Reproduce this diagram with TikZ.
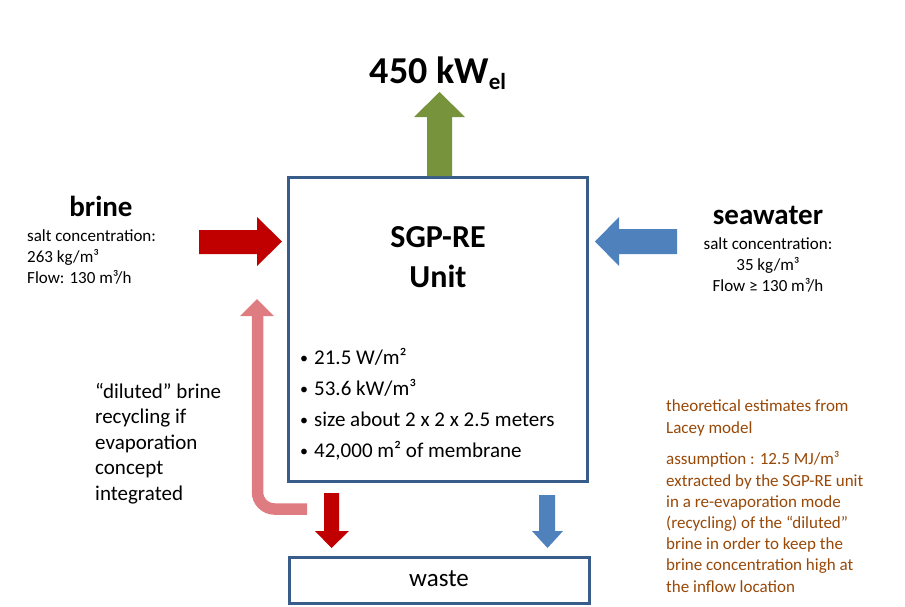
\documentclass[tikz,border=0pt]{standalone}
\usepackage{fontspec}
\setmainfont{Carlito}
\usetikzlibrary{positioning}

\definecolor{boxblue}{HTML}{385D8A}
\definecolor{brinered}{HTML}{C00000}
\definecolor{seablue}{HTML}{4F81BD}
\definecolor{powergreen}{HTML}{77933C}
\definecolor{recyclepink}{HTML}{DF7C81}
\definecolor{notebrown}{HTML}{984807}

\begin{document}
\begin{tikzpicture}[x=1pt,y=-1pt,
    unit box/.style={draw=boxblue,line width=3pt,inner sep=0pt},
    big label/.style={font=\fontsize{29}{35}\selectfont\bfseries,anchor=base},
    small label/.style={font=\fontsize{17}{20.6}\selectfont,anchor=base,align=center},
    bullet/.style={font=\fontsize{21}{25}\selectfont,anchor=base west,inner sep=0pt},
    note/.style={font=\fontsize{17}{21.2}\selectfont,text=notebrown,anchor=base west,align=left,inner sep=0pt}]

\useasboundingbox (0,0) rectangle (905,606);

% boxes
\node[unit box,minimum width=299pt,minimum height=304pt] (unit) at (437.5,329) {};
\node[unit box,minimum width=300pt,minimum height=46pt] (waste) at (439,580) {};
\node[font=\fontsize{25}{30}\selectfont,anchor=base] at (439,586) {waste};

\node[font=\fontsize{32}{40}\selectfont\bfseries,anchor=base,align=center] (title) at (438,287) {SGP-RE\\Unit};

\foreach \txt [count=\i] in {{21.5 W/m²},{53.6 kW/m³},{size about 2 x 2 x 2.5 meters},{42,000 m² of membrane}}
  \node[bullet] (item\i) at (300,333+31*\i) {\raisebox{1pt}{\fontsize{16}{16}\selectfont•}\hspace{6pt}\txt};

% block arrows
\fill[powergreen] (427,176) -- (427,117) -- (414,117) -- (439.5,92) -- (465,117) -- (452,117) -- (452,176) -- cycle;
\fill[brinered] (199,230) -- (257,230) -- (257,217) -- (282,241.5) -- (257,266) -- (257,254) -- (199,254) -- cycle;
\fill[seablue] (677,229) -- (619,229) -- (619,217) -- (595,241.5) -- (619,266) -- (619,254) -- (677,254) -- cycle;
\fill[brinered] (324,493) -- (339,493) -- (339,531) -- (349,531) -- (331.5,548) -- (315,531) -- (324,531) -- cycle;
\fill[seablue] (539,495) -- (555,495) -- (555,531) -- (563,531) -- (547.5,548) -- (532,531) -- (539,531) -- cycle;
\draw[recyclepink,line width=11.5pt,rounded corners=17pt] (307,509) -- (257.5,509) -- (257.5,315);
\fill[recyclepink] (240,316) -- (257,299) -- (274,316) -- cycle;

% labels
\node[anchor=base,font=\fontsize{38}{44}\selectfont\bfseries] (power) at (438,83)
  {450 kW\raisebox{-6pt}{\fontsize{23}{23}\selectfont el}};

\node[big label] (brine) at (101,216) {brine};
\node[small label,anchor=base west,align=left,inner sep=0pt] (brineinfo) at (27,283)
  {salt concentration:\\263 kg/m³\\Flow: 130 m³/h};

\node[big label] (sea) at (768,224) {seawater};
\node[small label,inner sep=0pt] (seainfo) at (768,291)
  {salt concentration:\\35 kg/m³\\Flow ≥ 130 m³/h};

\node[font=\fontsize{21}{25.4}\selectfont,anchor=base west,align=left,inner sep=0pt] (recycle) at (95,500)
  {“diluted” brine\\recycling if\\evaporation\\concept\\integrated};

\node[note] (lacey) at (666,433) {theoretical estimates from\\Lacey model};
\node[note] (assume) at (666,592) {assumption : 12.5 MJ/m³\\extracted by the SGP-RE unit\\in a re-evaporation mode\\(recycling) of the “diluted”\\brine in order to keep the\\brine concentration high at\\the inflow location};

\end{tikzpicture}
\end{document}
